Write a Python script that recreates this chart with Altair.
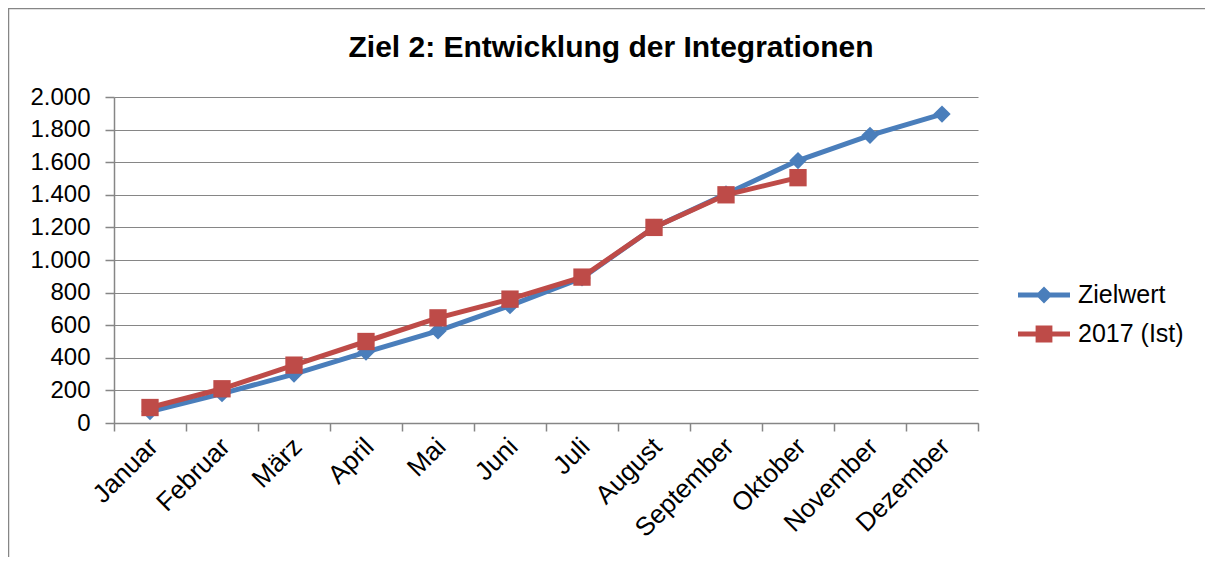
import altair as alt
import pandas as pd

months = ["Januar", "Februar", "März", "April", "Mai", "Juni", "Juli",
          "August", "September", "Oktober", "November", "Dezember"]
zielwert = [70, 180, 300, 435, 565, 720, 890, 1200, 1405, 1610, 1765, 1895]
ist_2017 = [95, 210, 355, 500, 645, 760, 895, 1200, 1400, 1505]

series_names = ["Zielwert", "2017 (Ist)"]
colors = ["#4A7EBB", "#BE4B48"]

rows = []
for m, v in zip(months, zielwert):
    rows.append({"Monat": m, "Serie": series_names[0], "Wert": v})
for m, v in zip(months, ist_2017):
    rows.append({"Monat": m, "Serie": series_names[1], "Wert": v})
df = pd.DataFrame(rows)

FONT = "Liberation Sans"
GRAY = "#868686"

x_enc = alt.X("Monat:N", sort=months, bandPosition=0.5,
              scale=alt.Scale(type="band", paddingInner=0, paddingOuter=0),
              axis=alt.Axis(title=None, labelAngle=-45, labelAlign="right",
                            labelBaseline="top", labelFont=FONT, labelFontSize=26,
                            labelColor="black", labelPadding=2, labelOffset=-6,
                            tickBand="extent", ticks=True, tickSize=8,
                            tickColor=GRAY, tickWidth=1.5, domainColor=GRAY,
                            domainWidth=1.5, grid=False))
y_enc = alt.Y("Wert:Q", scale=alt.Scale(domain=[0, 2000], nice=False),
              axis=alt.Axis(title=None, values=list(range(0, 2001, 200)),
                            labelExpr="replace(format(datum.value, ','), ',', '.')",
                            labelFont=FONT, labelFontSize=24, labelColor="black",
                            labelPadding=15, tickSize=9, tickColor=GRAY, tickWidth=1.5,
                            domainColor=GRAY, domainWidth=1.5,
                            grid=True, gridColor=GRAY, gridWidth=1.2))
color_scale = alt.Scale(domain=series_names, range=colors)

base = alt.Chart(df)


def series_layers(name, col, shape, size):
    d = base.transform_filter(alt.datum.Serie == name)
    line = d.mark_line(strokeWidth=5, color=col).encode(x=x_enc, y=y_enc)
    pts = d.mark_point(filled=True, opacity=1, shape=shape, size=size,
                       color=col).encode(x=x_enc, y=y_enc)
    return [line, pts]


legend_paths = [
    "M-1.3,-0.13H1.3V0.13H-1.3Z M0,-0.42L0.42,0L0,0.42L-0.42,0Z",
    "M-1.3,-0.13H1.3V0.13H-1.3Z M-0.42,-0.42H0.42V0.42H-0.42Z",
]

legend_props = dict(title=None, orient="none", legendX=910, legendY=178,
                    padding=0, rowPadding=6, symbolSize=1600,
                    symbolStrokeWidth=0, labelFont=FONT, labelFontSize=25,
                    labelColor="black", labelOffset=14)

legend_layer = base.transform_filter("false").mark_point(
    filled=True, opacity=1, size=1600).encode(
    x=x_enc, y=y_enc,
    color=alt.Color("Serie:N", scale=color_scale, legend=alt.Legend(**legend_props)),
    shape=alt.Shape("Serie:N", scale=alt.Scale(domain=series_names, range=legend_paths),
                    legend=alt.Legend(**legend_props)),
)

frame = alt.Chart(pd.DataFrame({"a": [0]})).mark_rect(
    fill=None, stroke=GRAY, strokeWidth=1.5).encode(
    x=alt.value(-105.5), x2=alt.value(1300), y=alt.value(-88.5), y2=alt.value(600))

layers = [frame] + series_layers(series_names[0], colors[0], "diamond", 300) + \
    series_layers(series_names[1], colors[1], "square", 300) + [legend_layer]

chart = alt.layer(*layers).properties(
    width=864, height=326,
    title=alt.TitleParams("Ziel 2: Entwicklung der Integrationen", font=FONT,
                          fontSize=30, fontWeight="bold", color="black",
                          anchor="middle", frame="group", dx=65,
                          baseline="alphabetic", offset=-79),
    autosize=alt.AutoSizeParams(type="none"),
    padding={"left": 106, "top": 89, "right": 227, "bottom": 134},
).configure_view(stroke=None)

chart.save("out.html", embed_options={"renderer": "svg", "actions": False})
